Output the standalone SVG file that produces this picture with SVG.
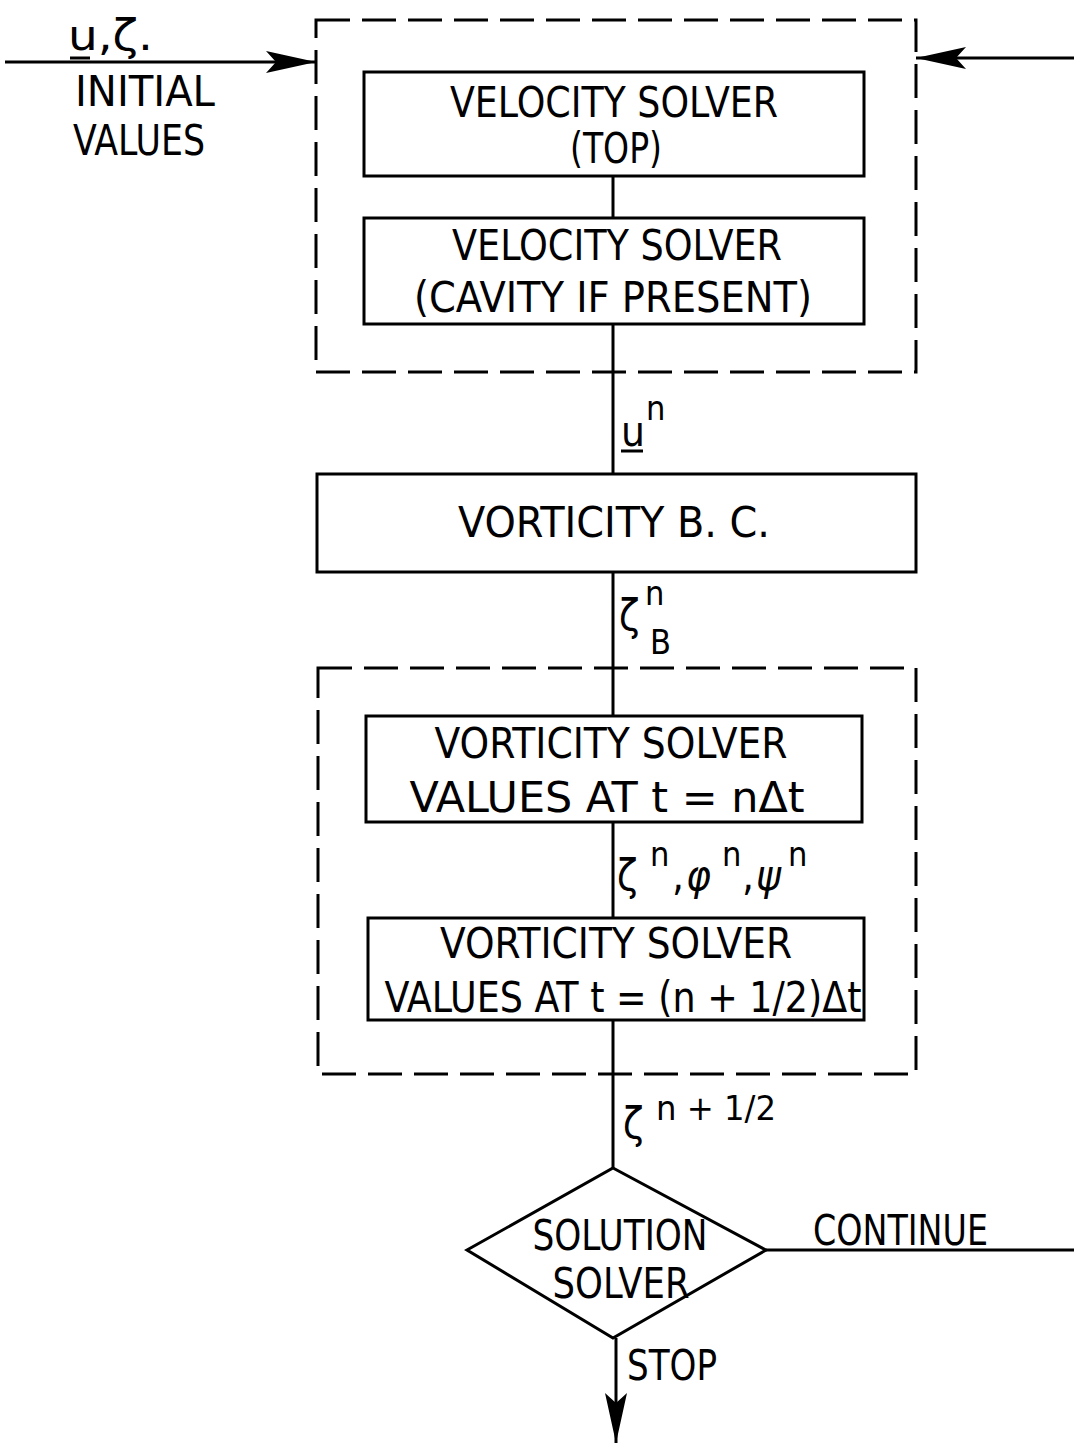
<svg xmlns="http://www.w3.org/2000/svg" width="1074" height="1443" viewBox="0 0 1074 1443">
<style>
.bg{fill:#fff}
.box{fill:none;stroke:#000;stroke-width:3}
.dash{fill:none;stroke:#000;stroke-width:3;stroke-dasharray:34 12}
.ln{fill:none;stroke:#000;stroke-width:3}
text{font-family:"DejaVu Sans Condensed","DejaVu Sans","Liberation Sans",sans-serif;font-size:42px;fill:#000}
.sup{font-size:34px}
.it{font-style:italic}
</style>
<defs>
<marker id="ah" viewBox="0 0 50 24" refX="50" refY="12" markerWidth="50" markerHeight="24" markerUnits="userSpaceOnUse" orient="auto">
<path d="M0,1 L50,12 L0,23 L10,12 Z" fill="#000"/>
</marker>
</defs>
<rect class="bg" width="1074" height="1443"/>

<g id="connectors">
<line class="ln" x1="5" y1="62" x2="316" y2="62" marker-end="url(#ah)"/>
<line class="ln" x1="1074" y1="58" x2="916" y2="58" marker-end="url(#ah)"/>
<line class="ln" x1="613" y1="176" x2="613" y2="218"/>
<line class="ln" x1="613" y1="324" x2="613" y2="474"/>
<line class="ln" x1="613" y1="572" x2="613" y2="716"/>
<line class="ln" x1="613" y1="822" x2="613" y2="918"/>
<line class="ln" x1="613" y1="1020" x2="613" y2="1168"/>
<line class="ln" x1="766" y1="1250" x2="1074" y2="1250"/>
<line class="ln" x1="616" y1="1338" x2="616" y2="1443" marker-end="url(#ah)"/>
</g>

<g id="labels">
<text x="68" y="50" textLength="85" lengthAdjust="spacingAndGlyphs">u,ζ.</text>
<line class="ln" x1="70" y1="58" x2="90" y2="58" stroke-width="2.5"/>
<text x="75" y="106" textLength="140" lengthAdjust="spacingAndGlyphs">INITIAL</text>
<text x="73" y="155" textLength="132" lengthAdjust="spacingAndGlyphs">VALUES</text>

<text x="621" y="446">u</text>
<line class="ln" x1="621" y1="451" x2="643" y2="451" stroke-width="2.5"/>
<text class="sup" x="646" y="420">n</text>

<text x="619" y="630">ζ</text>
<text class="sup" x="645" y="605">n</text>
<text class="sup" x="650" y="654">B</text>

<text x="617" y="890">ζ</text>
<text class="sup" x="650" y="866">n</text>
<text x="672" y="890">,</text>
<text class="it" x="686" y="890">φ</text>
<text class="sup" x="722" y="866">n</text>
<text x="742" y="890">,</text>
<text class="it" x="756" y="890">ψ</text>
<text class="sup" x="788" y="866">n</text>

<text x="623" y="1138">ζ</text>
<text class="sup" x="656" y="1120" textLength="120" lengthAdjust="spacingAndGlyphs">n + 1/2</text>

<text x="813" y="1245" textLength="175" lengthAdjust="spacingAndGlyphs">CONTINUE</text>
<text x="627" y="1380" textLength="90" lengthAdjust="spacingAndGlyphs">STOP</text>
</g>

<g id="velocity-group">
<rect class="dash" x="316" y="20" width="600" height="352"/>
</g>

<g id="velocity-top">
<rect class="box" x="364" y="72" width="500" height="104"/>
<text x="614" y="117" text-anchor="middle" textLength="328" lengthAdjust="spacingAndGlyphs">VELOCITY SOLVER</text>
<text x="616" y="163" text-anchor="middle" textLength="92" lengthAdjust="spacingAndGlyphs">(TOP)</text>
</g>

<g id="velocity-cavity">
<rect class="box" x="364" y="218" width="500" height="106"/>
<text x="617" y="260" text-anchor="middle" textLength="330" lengthAdjust="spacingAndGlyphs">VELOCITY SOLVER</text>
<text x="613" y="312" text-anchor="middle" textLength="398" lengthAdjust="spacingAndGlyphs">(CAVITY IF PRESENT)</text>
</g>

<g id="vorticity-bc">
<rect class="box" x="317" y="474" width="599" height="98"/>
<text x="614" y="537" text-anchor="middle" textLength="312" lengthAdjust="spacingAndGlyphs">VORTICITY B. C.</text>
</g>

<g id="vorticity-group">
<rect class="dash" x="318" y="668" width="598" height="406"/>
</g>

<g id="vorticity-n">
<rect class="box" x="366" y="716" width="496" height="106"/>
<text x="611" y="758" text-anchor="middle" textLength="353" lengthAdjust="spacingAndGlyphs">VORTICITY SOLVER</text>
<text x="607" y="812" text-anchor="middle" textLength="395" lengthAdjust="spacingAndGlyphs">VALUES AT t = nΔt</text>
</g>

<g id="vorticity-half">
<rect class="box" x="368" y="918" width="496" height="102"/>
<text x="616" y="958" text-anchor="middle" textLength="352" lengthAdjust="spacingAndGlyphs">VORTICITY SOLVER</text>
<text x="623" y="1012" text-anchor="middle" textLength="477" lengthAdjust="spacingAndGlyphs">VALUES AT t = (n + 1/2)Δt</text>
</g>

<g id="solution-solver">
<polygon class="box" points="613,1168 766,1250 613,1338 467,1250"/>
<text x="620" y="1250" text-anchor="middle" textLength="175" lengthAdjust="spacingAndGlyphs">SOLUTION</text>
<text x="621" y="1298" text-anchor="middle" textLength="137" lengthAdjust="spacingAndGlyphs">SOLVER</text>
</g>
</svg>
